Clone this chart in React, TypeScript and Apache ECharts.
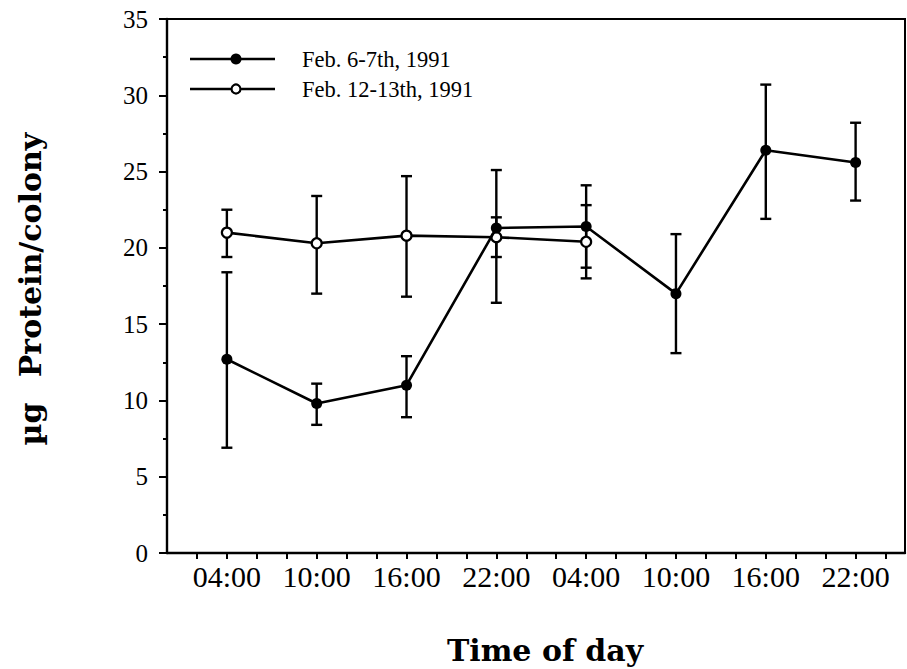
import React, { useEffect, useRef } from "react";
import * as echarts from "echarts";

// ---- data ----
const hours = [4, 10, 16, 22, 28, 34, 40, 46];
const hourLabels = ["04:00", "10:00", "16:00", "22:00", "04:00", "10:00", "16:00", "22:00"];

const feb6Name = "Feb. 6-7th, 1991";
const feb6Mean = [12.7, 9.8, 11.0, 21.3, 21.4, 17.0, 26.4, 25.6];
const feb6Upper = [18.4, 11.1, 12.9, 25.1, 24.1, 20.9, 30.7, 28.2];
const feb6Lower = [6.9, 8.4, 8.9, 16.4, 18.7, 13.1, 21.9, 23.1];

const feb12Name = "Feb. 12-13th, 1991";
const feb12Hours = [4, 10, 16, 22, 28];
const feb12Mean = [21.0, 20.3, 20.8, 20.7, 20.4];
const feb12Upper = [22.5, 23.4, 24.7, 22.0, 22.8];
const feb12Lower = [19.4, 17.0, 16.8, 19.4, 18.0];

const yTitleUnit = "µg";
const yTitleMain = "Protein/colony";
const xTitle = "Time of day";

const SERIF = "'Liberation Serif', 'Times New Roman', serif";
const TITLE_FONT = "'DejaVu Serif', serif";

function errorBarRender(params: any, api: any) {
  const x = api.value(0);
  const lo = api.coord([x, api.value(1)]);
  const hi = api.coord([x, api.value(2)]);
  const cap = 5.5;
  const style = { stroke: "#000", lineWidth: 2.4 };
  return {
    type: "group",
    children: [
      { type: "line", shape: { x1: lo[0], y1: lo[1], x2: hi[0], y2: hi[1] }, style },
      { type: "line", shape: { x1: lo[0] - cap, y1: lo[1], x2: lo[0] + cap, y2: lo[1] }, style },
      { type: "line", shape: { x1: hi[0] - cap, y1: hi[1], x2: hi[0] + cap, y2: hi[1] }, style },
    ],
  };
}

export default function App() {
  const ref = useRef<HTMLDivElement>(null);

  useEffect(() => {
    if (!ref.current) return;
    const chart = echarts.init(ref.current, undefined, { renderer: "svg" });

    const option: any = {
      animation: false,
      backgroundColor: "#fff",
      grid: {
        left: 167,
        top: 19,
        right: 2,
        bottom: 116,
        show: true,
        borderColor: "#000",
        borderWidth: 2,
        backgroundColor: "transparent",
      },
      xAxis: {
        type: "value",
        min: 0,
        max: 49.3,
        interval: 2,
        axisLine: { show: true, lineStyle: { color: "#000", width: 2.4 } },
        axisTick: { show: true, inside: false, length: 6, lineStyle: { color: "#000", width: 2 } },
        splitLine: { show: false },
        axisLabel: {
          color: "#000",
          fontFamily: SERIF,
          fontSize: 30,
          margin: 8,
          showMinLabel: false,
          showMaxLabel: false,
          formatter: (v: number) => {
            const i = hours.indexOf(v);
            return i >= 0 ? hourLabels[i] : "";
          },
        },
      },
      yAxis: {
        type: "value",
        min: 0,
        max: 35,
        interval: 5,
        axisLine: { show: true, lineStyle: { color: "#000", width: 2.4 } },
        axisTick: { show: true, inside: false, length: 8, lineStyle: { color: "#000", width: 2 } },
        minorTick: { show: true, splitNumber: 2, length: 4, lineStyle: { color: "#000", width: 2 } },
        splitLine: { show: false },
        axisLabel: {
          color: "#000",
          fontFamily: SERIF,
          fontSize: 25,
          margin: 19,
        },
      },
      series: [
        {
          name: feb6Name + " error",
          type: "custom",
          z: 1,
          renderItem: errorBarRender,
          encode: { x: 0, y: [1, 2] },
          data: hours.map((h, i) => [h, feb6Lower[i], feb6Upper[i]]),
        },
        {
          name: feb12Name + " error",
          type: "custom",
          z: 1,
          renderItem: errorBarRender,
          encode: { x: 0, y: [1, 2] },
          data: feb12Hours.map((h, i) => [h, feb12Lower[i], feb12Upper[i]]),
        },
        {
          name: feb12Name,
          type: "line",
          z: 2,
          symbol: "circle",
          symbolSize: 10,
          showAllSymbol: true,
          lineStyle: { color: "#000", width: 2.6 },
          itemStyle: { color: "#fff", borderColor: "#000", borderWidth: 2.2 },
          data: feb12Hours.map((h, i) => [h, feb12Mean[i]]),
        },
        {
          name: feb6Name,
          type: "line",
          z: 3,
          symbol: "circle",
          symbolSize: 11,
          showAllSymbol: true,
          lineStyle: { color: "#000", width: 2.6 },
          itemStyle: { color: "#000" },
          data: hours.map((h, i) => [h, feb6Mean[i]]),
        },
      ],
      graphic: [
        // legend
        { type: "line", shape: { x1: 190, y1: 59, x2: 275, y2: 59 }, style: { stroke: "#000", lineWidth: 2.6 } },
        { type: "circle", shape: { cx: 236, cy: 59, r: 5.5 }, style: { fill: "#000" } },
        {
          type: "text",
          left: 302,
          top: 48,
          style: { text: feb6Name, fill: "#000", font: `22.5px ${SERIF}` },
        },
        { type: "line", shape: { x1: 190, y1: 89, x2: 275, y2: 89 }, style: { stroke: "#000", lineWidth: 2.6 } },
        { type: "circle", shape: { cx: 236, cy: 89, r: 4.5 }, style: { fill: "#fff", stroke: "#000", lineWidth: 2.2 } },
        {
          type: "text",
          left: 302,
          top: 78,
          style: { text: feb12Name, fill: "#000", font: `22.5px ${SERIF}` },
        },
        // axis titles
        {
          type: "text",
          x: 30,
          y: 255,
          rotation: Math.PI / 2,
          style: {
            text: yTitleMain,
            fill: "#000",
            font: `bold 30px ${TITLE_FONT}`,
            align: "center",
            verticalAlign: "middle",
          },
        },
        {
          type: "text",
          x: 30,
          y: 424,
          rotation: Math.PI / 2,
          style: {
            text: yTitleUnit,
            fill: "#000",
            font: `bold 30px ${TITLE_FONT}`,
            align: "center",
            verticalAlign: "middle",
          },
        },
        {
          type: "text",
          x: 545,
          y: 650,
          style: {
            text: xTitle,
            fill: "#000",
            font: `bold 30px ${TITLE_FONT}`,
            align: "center",
            verticalAlign: "middle",
          },
        },
      ],
    };

    chart.setOption(option);
    return () => chart.dispose();
  }, []);

  return (
    <div
      ref={ref}
      style={{ position: "fixed", left: 0, top: 0, width: 907, height: 669, background: "#fff" }}
    />
  );
}
